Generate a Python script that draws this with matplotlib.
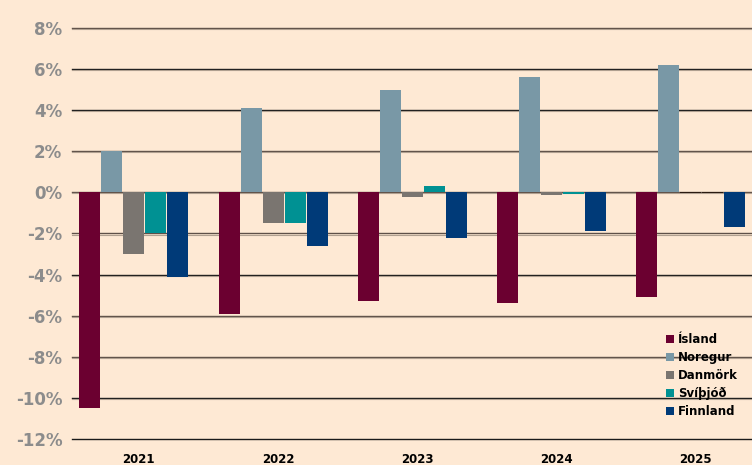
import numpy as np
import matplotlib
matplotlib.use('Agg')
import matplotlib.pyplot as plt
from matplotlib import rcParams

rcParams['font.family'] = 'DejaVu Sans'
rcParams['axes.unicode_minus'] = False

years = ['2021', '2022', '2023', '2024', '2025']
countries = ['Ísland', 'Noregur', 'Danmörk', 'Svíþjóð', 'Finnland']
island = [-10.5, -5.9, -5.3, -5.4, -5.1]
noregur = [2.0, 4.1, 5.0, 5.6, 6.2]
danmork = [-3.0, -1.5, -0.2, -0.15, 0.0]
svithjod = [-2.0, -1.5, 0.3, -0.1, 0.0]
finnland = [-4.1, -2.6, -2.2, -1.9, -1.7]
series = [island, noregur, danmork, svithjod, finnland]
colors = ['#6b0030', '#7998a6', '#7a7570', '#009193', '#003a78']
yticks = list(range(-12, 9, 2))

bg = '#fee9d4'
fig = plt.figure(figsize=(7.52, 4.65), dpi=100, facecolor=bg)
ax = fig.add_axes([72 / 752, 26 / 465, 680 / 752, 411 / 465], facecolor=bg)

x = np.arange(len(years))
w = 0.151
step = 0.158
shift = -0.035  # bars sit a little left of the category labels
for k, (vals, c, name) in enumerate(zip(series, colors, countries)):
    pos = x + (k - 2) * step + shift
    ax.bar(pos, vals, width=w, color=c, label=name, zorder=2)
    # values that round to zero show up as a thin dark line
    zero = [i for i, v in enumerate(vals) if v == 0]
    if zero:
        ax.bar(pos[zero], [0.04] * len(zero), bottom=-0.02, width=w,
               color='#2a1a10', zorder=3)

for t in yticks:
    lc = '#1a1a1a' if t in (6, 4, -4, -10, -12) else '#5e5048'
    ax.axhline(t, color=lc, lw=1.0, zorder=1, clip_on=False)
    if t > -12:
        ax.axhline(t - 0.05, color='#b0a090', lw=0.8, zorder=1, clip_on=False)

ax.set_ylim(-12, 8)
ax.set_xlim(-0.445 + shift, 4.44 + shift)
ax.set_yticks(yticks)
ax.set_yticklabels([f'{t}%' for t in yticks], color='#8c8c8c',
                   fontsize=12, fontweight='bold')
ax.set_xticks(x)
ax.set_xticklabels(years, fontsize=8.5, fontweight='bold')
ax.tick_params(axis='y', length=0, pad=7)
ax.tick_params(axis='x', length=0, pad=10)
for s in ax.spines.values():
    s.set_visible(False)

leg = ax.legend(loc='lower right', bbox_to_anchor=(0.995, 0.025), frameon=False,
                handlelength=0.65, handleheight=0.65, handletextpad=0.35,
                labelspacing=0.42, prop={'size': 8.5, 'weight': 'bold'})

fig.savefig('out.png', dpi=100, facecolor=bg)
